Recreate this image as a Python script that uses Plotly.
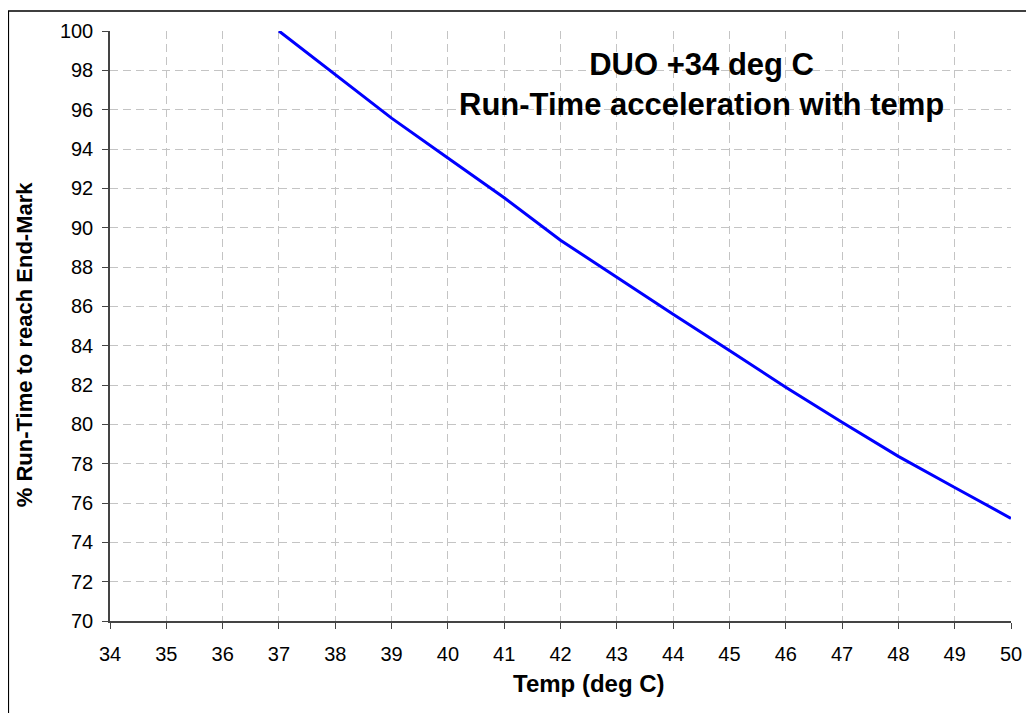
import plotly.graph_objects as go

# Data
temps = [37, 38, 39, 40, 41, 42, 43, 44, 45, 46, 47, 48, 49, 50]
run_time_pct = [100.0, 97.77, 95.57, 93.54, 91.52, 89.36, 87.46, 85.6, 83.75, 81.89, 80.11, 78.37, 76.79, 75.22]

title_lines = ["DUO +34 deg C", "Run-Time acceleration with temp"]
x_title = "Temp (deg C)"
y_title = "% Run-Time to reach End-Mark"

# The page body has an 8px margin; size the figure so it fills the window.
OFF = 8
W, H = 1034 - OFF, 713 - OFF
# plot area in page pixels: x 110..1014, y 29..621
L, R, T, B = 110 - OFF, 1034 - 1014, 29 - OFF, 713 - 621
pw, ph = W - L - R, H - T - B

def px(xp):
    return (xp - OFF - L) / pw

def py(yp):
    return (H - B - (yp - OFF)) / ph

FONT = "Arial, Liberation Sans, sans-serif"

fig = go.Figure()
fig.add_trace(go.Scatter(
    x=temps, y=run_time_pct, mode="lines",
    line=dict(color="#0000FF", width=3),
    showlegend=False,
))

grid = dict(showgrid=True, gridcolor="#c4c4c4", gridwidth=1, griddash="8px,5px")

fig.update_layout(
    width=W, height=H,
    margin=dict(l=L, r=R, t=T, b=B),
    paper_bgcolor="white", plot_bgcolor="white",
    font=dict(family=FONT, color="black"),
    xaxis=dict(range=[34, 50], dtick=1, tick0=34, ticks="outside", ticklen=6,
               tickcolor="#444", showline=True, linecolor="#444", linewidth=1.5,
               tickfont=dict(size=20, family=FONT), ticklabelstandoff=8,
               zeroline=False, **grid),
    yaxis=dict(range=[70, 100], dtick=2, tick0=70, ticks="outside", ticklen=6,
               tickcolor="#444", showline=True, linecolor="#444", linewidth=1.5,
               tickfont=dict(size=20, family=FONT), ticklabelstandoff=5,
               zeroline=False, **grid),
    annotations=[
        dict(text="<b>" + "<br>".join(title_lines) + "</b>", xref="paper", yref="paper",
             x=px(703), y=py(82.5), xanchor="center", yanchor="middle", showarrow=False,
             font=dict(size=31, family=FONT, color="black"), align="center"),
        dict(text="<b>" + x_title + "</b>", xref="paper", yref="paper",
             x=px(591), y=py(684), xanchor="center", yanchor="middle", showarrow=False,
             font=dict(size=24, family=FONT, color="black")),
        dict(text="<b>" + y_title + "</b>", xref="paper", yref="paper",
             x=px(25), y=py(343), xanchor="center", yanchor="middle", showarrow=False,
             textangle=-90, font=dict(size=22, family=FONT, color="black")),
    ],
    shapes=[
        dict(type="rect", xref="paper", yref="paper",
             x0=px(8), x1=px(1050), y0=py(9), y1=py(730),
             line=dict(color="black", width=1.5), fillcolor="rgba(0,0,0,0)"),
    ],
)

fig.write_html("out.html")
